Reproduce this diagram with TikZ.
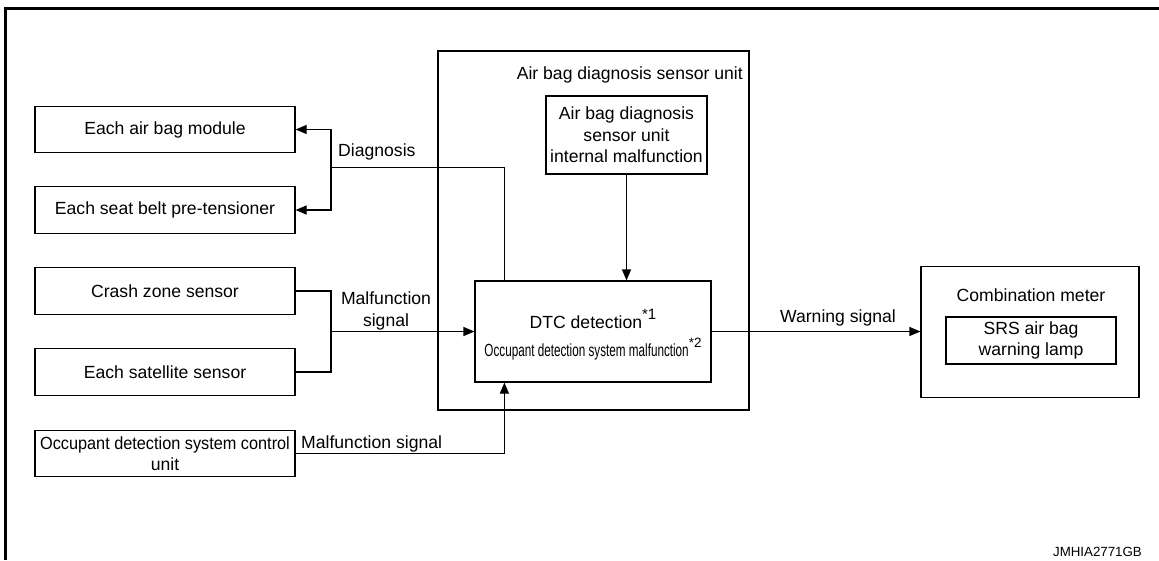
\documentclass[tikz,border=0pt]{standalone}
\usepackage{fontspec}
\setmainfont{Liberation Sans}
\usepackage{graphicx}
\usetikzlibrary{arrows.meta, calc}

\begin{document}
\begin{tikzpicture}[x=1pt, y=-1pt,
  box/.style={draw, line width=1.2pt, inner sep=0pt, align=center,
    font=\fontsize{17.6}{21.5}\selectfont},
  sidebox/.style={box, minimum width=260pt, minimum height=46.5pt},
  lbl/.style={font=\fontsize{17.6}{22}\selectfont, align=center, inner sep=0pt},
  sig/.style={line width=1.2pt},
  sigarr/.style={sig, -{Triangle[length=11pt, width=9pt]}}]
\useasboundingbox (0,0) rectangle (1159,560);
\draw[line width=3pt] (1159,8.5) -- (5.5,8.5) -- (5.5,560);

% left side
\node[sidebox] (airbag) at (165,129.5) {Each air bag module};
\node[sidebox] (pretens) at (165,210) {Each seat belt pre-tensioner};
\node[sidebox] (crash) at (165,291) {Crash zone sensor};
\node[sidebox] (satellite) at (165,372) {Each satellite sensor};
\node[sidebox] (odscu) at (165,453.5)
  {\scalebox{0.925}[1]{Occupant detection system control}\\unit};

% sensor unit
\node[box, minimum width=311pt, minimum height=359pt] (unit) at (593.5,230.5) {};
\node[lbl, anchor=east] (unitlbl) at (743,75) {Air bag diagnosis sensor unit};
\node[box, minimum width=161pt, minimum height=78pt] (internal) at (626.5,135)
  {Air bag diagnosis\\sensor unit\\internal malfunction};
\node[box, minimum width=236pt, minimum height=101pt] (dtc) at (593,331.5)
  {\rule{0pt}{26pt}DTC detection\raisebox{0.5em}{\fontsize{15}{15}\selectfont *1}\\[7pt]
   \scalebox{0.665}[1]{Occupant detection system malfunction}\raisebox{0.55em}{\fontsize{13.5}{13.5}\selectfont *2}};

% meter
\node[box, minimum width=218pt, minimum height=131pt] (meter) at (1030,332) {};
\node[lbl] (meterlbl) at (1031,295) {Combination meter};
\node[box, minimum width=170pt, minimum height=47pt] (srs) at (1031,340.5)
  {SRS air bag\\warning lamp};

% labels
\node[lbl, anchor=west] (diaglbl) at (338,152) {Diagnosis};
\node[lbl] (mflbl) at (386,311) {Malfunction\\signal};
\node[lbl, anchor=west] (odslbl) at (301,444) {Malfunction signal};
\node[lbl] (warnlbl) at (838,318) {Warning signal};
\node[lbl, anchor=east, font=\fontsize{13.3}{15}\selectfont] (figid) at (1142,552) {JMHIA2771GB};

% connectors
\coordinate (diagjn) at (331,167.5);
\coordinate (mfjn) at (331,331.5);
\draw[sig] ($(dtc.north west)+(30,0)$) |- (diagjn);
\draw[sigarr] (diagjn) |- (airbag.east);
\draw[sigarr] (diagjn) |- (pretens.east);
\draw[sig] (crash.east) -| (mfjn);
\draw[sig] (satellite.east) -| (mfjn);
\draw[sigarr] (mfjn) -- (dtc.west);
\draw[sigarr] (odscu.east) -| ($(dtc.south west)+(30,0)$);
\draw[sigarr] (internal.south) -- (internal.south |- dtc.north);
\draw[sigarr] (dtc.east) -- (dtc.east -| meter.west);
\end{tikzpicture}
\end{document}
